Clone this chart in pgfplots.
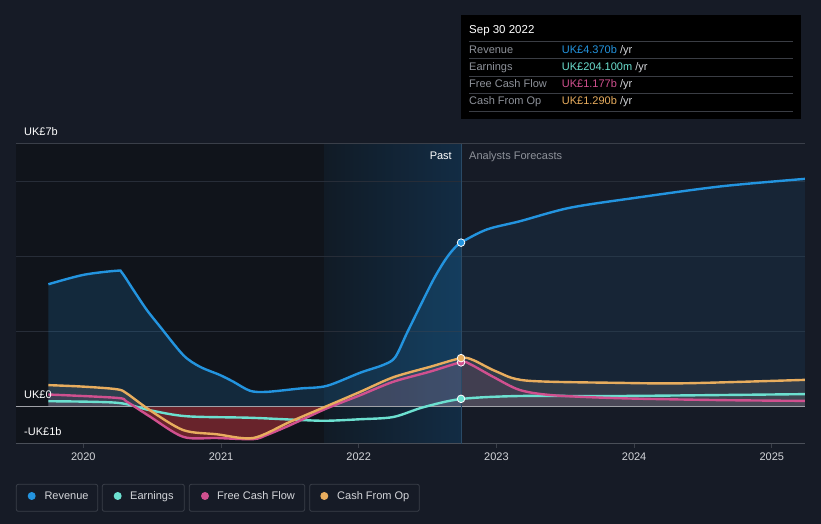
\documentclass[border=0pt]{standalone}
\usepackage{pgfplots}
\pgfplotsset{compat=1.18}
\usepackage{pgfplotstable}
\usepackage{fontspec}
\setmainfont{Liberation Sans}
\definecolor{bg}{HTML}{161B26}
\definecolor{pastdark}{HTML}{10141B}
\definecolor{hlL}{HTML}{111B26}
\definecolor{hlR}{HTML}{122C44}
\definecolor{gridc}{HTML}{272D38}
\definecolor{rev}{HTML}{2394DF}
\definecolor{earn}{HTML}{6CE0D0}
\definecolor{fcf}{HTML}{D0508F}
\definecolor{cfo}{HTML}{E8AD5E}
\definecolor{txt}{HTML}{D4D6DA}
\definecolor{mut}{HTML}{8E929A}
\definecolor{legb}{HTML}{3A3F49}
\definecolor{axc}{HTML}{4A4F58}
\definecolor{zeroc}{HTML}{A0A2A8}
\definecolor{vlc}{HTML}{2A4A66}
\definecolor{sepc}{HTML}{3A3D44}
\definecolor{negred}{HTML}{C0323C}

\pgfplotstableread{
x y
2019.746 3.26
2020.0 3.51
2020.243 3.62
2020.28 3.57
2020.363 3.11
2020.46 2.58
2020.557 2.13
2020.726 1.37
2020.847 1.06
2020.992 0.84
2021.09 0.66
2021.21 0.42
2021.33 0.39
2021.574 0.48
2021.768 0.55
2022.01 0.90
2022.179 1.11
2022.264 1.31
2022.349 1.95
2022.445 2.67
2022.542 3.38
2022.614 3.83
2022.675 4.14
2022.743 4.37
2022.93 4.72
2023.17 4.94
2023.534 5.30
2024.02 5.57
2024.63 5.87
2025.24 6.07
}\revdata

\pgfplotstableread{
x y
2019.746 0.14
2020.243 0.10
2020.484 -0.10
2020.75 -0.26
2021.21 -0.30
2021.574 -0.36
2021.768 -0.38
2022.01 -0.34
2022.251 -0.28
2022.469 -0.02
2022.743 0.20
2023.17 0.28
2023.898 0.28
2025.24 0.33
}\earndata

\pgfplotstableread{
x y
2019.746 0.32
2020.243 0.23
2020.315 0.13
2020.484 -0.27
2020.726 -0.81
2020.968 -0.84
2021.234 -0.87
2021.332 -0.76
2021.50 -0.50
2021.768 -0.05
2022.01 0.30
2022.251 0.66
2022.518 0.93
2022.743 1.18
2022.809 1.13
2022.977 0.79
2023.17 0.44
2023.411 0.30
2023.898 0.22
2024.63 0.17
2025.24 0.15
}\fcfdata

\pgfplotstableread{
x y
2019.746 0.57
2020.0 0.53
2020.243 0.46
2020.315 0.35
2020.484 -0.10
2020.726 -0.63
2020.968 -0.74
2021.234 -0.84
2021.50 -0.41
2021.768 0.01
2022.01 0.39
2022.251 0.78
2022.52 1.06
2022.743 1.29
2022.83 1.24
2023.002 0.93
2023.22 0.69
2023.898 0.63
2024.382 0.62
2025.24 0.71
}\cfodata

\begin{document}
\begin{tikzpicture}[x=1pt,y=1pt,font=\fontsize{11}{13}\selectfont,
  lab/.style={anchor=west, inner sep=0pt, text height=7.9pt, text depth=0pt}]
\useasboundingbox (0,0) rectangle (821,524);
\fill[bg] (0,0) rectangle (821,524);
\begin{axis}[at={(16pt,80pt)}, anchor=south west, scale only axis,
  width=789pt, height=300pt,
  xmin=2019.511, xmax=2025.241, ymin=-1, ymax=7,
  axis line style={draw=none},
  xtick={2020,2021,2022,2023,2024,2025},
  xticklabels={2020,2021,2022,2023,2024,2025},
  xtick pos=bottom,
  ytick=\empty,
  tick align=outside, major tick length=4pt,
  tick style={draw=legb, line width=0.8pt},
  xticklabel style={text=txt, font=\fontsize{11}{13}\selectfont, yshift=-1pt},
  clip=false,
]
\fill[pastdark] (axis cs:2019.511,-1) rectangle (axis cs:2021.75,7);
\shade[left color=hlL, right color=hlR] (axis cs:2021.75,-1) rectangle (axis cs:2022.743,7);
\draw[gridc, line width=1pt] (axis cs:2019.511,2) -- (axis cs:2025.241,2);
\draw[gridc, line width=1pt] (axis cs:2019.511,4) -- (axis cs:2025.241,4);
\draw[gridc, line width=1pt] (axis cs:2019.511,6) -- (axis cs:2025.241,6);
\draw[legb, line width=1pt] (axis cs:2019.511,7) -- (axis cs:2025.241,7);
\draw[axc, line width=1pt] (axis cs:2019.511,-1) -- (axis cs:2025.241,-1);

% revenue fill
\begin{scope}
\clip (axis cs:2019.5,0) rectangle (axis cs:2022.743,7);
\addplot[draw=none, fill=rev, fill opacity=0.17, smooth, tension=0.5] table {\revdata} \closedcycle;
\end{scope}
\begin{scope}
\clip (axis cs:2022.743,0) rectangle (axis cs:2025.3,7);
\addplot[draw=none, fill=rev, fill opacity=0.09, smooth, tension=0.5] table {\revdata} \closedcycle;
\end{scope}
% cash fills
\begin{scope}
\clip (axis cs:2019.5,0) rectangle (axis cs:2025.3,7);
\addplot[draw=none, fill=gray!80, fill opacity=0.2, smooth, tension=0.5] table {\cfodata} \closedcycle;
\addplot[draw=none, fill=fcf, fill opacity=0.1, smooth, tension=0.5] table {\fcfdata} \closedcycle;
\addplot[draw=none, fill=gray!80, fill opacity=0.12, smooth, tension=0.5] table {\earndata} \closedcycle;
\end{scope}
\begin{scope}
\clip (axis cs:2019.5,-1) rectangle (axis cs:2025.3,0);
\addplot[draw=none, fill=negred, fill opacity=0.5, smooth, tension=0.5] table {\fcfdata} \closedcycle;
\end{scope}

\draw[zeroc, line width=1.6pt] (axis cs:2019.511,0) -- (axis cs:2025.241,0);
\draw[vlc, line width=1pt] (axis cs:2022.743,-1) -- (axis cs:2022.743,7);

\addplot[rev, line width=2.4pt, smooth, tension=0.5] table {\revdata};
\addplot[earn, line width=2.4pt, smooth, tension=0.5] table {\earndata};
\addplot[fcf, line width=2.4pt, smooth, tension=0.5] table {\fcfdata};
\addplot[cfo, line width=2.4pt, smooth, tension=0.5] table {\cfodata};

\addplot[only marks, mark=*, mark size=3.8pt, mark options={fill=rev, draw=white, line width=0.8pt}] coordinates {(2022.743,4.37)};
\addplot[only marks, mark=*, mark size=3.8pt, mark options={fill=earn, draw=white, line width=0.8pt}] coordinates {(2022.743,0.204)};
\addplot[only marks, mark=*, mark size=3.8pt, mark options={fill=fcf, draw=white, line width=0.8pt}] coordinates {(2022.743,1.177)};
\addplot[only marks, mark=*, mark size=3.8pt, mark options={fill=cfo, draw=white, line width=0.8pt}] coordinates {(2022.743,1.29)};
\end{axis}

% y labels
\node[lab, text=white] at (24,392) {UK£7b};
\node[lab, text=white] at (24,129) {UK£0};
\node[lab, text=white] at (24,92) {-UK£1b};
% past / forecast
\node[lab, anchor=east, text=white] at (452,368) {Past};
\node[lab, text=mut] at (469,368) {Analysts Forecasts};

% tooltip
\fill[black] (461,405) rectangle (801,509);
\node[lab, text=white, font=\fontsize{11.5}{13}\selectfont] at (469,494) {Sep 30 2022};
\foreach \yy in {483,465.7,447.7,430.7,413} {\draw[sepc, line width=0.8pt] (469,\yy) -- (793,\yy);}
\node[lab, text=mut] at (469,474.7) {Revenue};
\node[lab, text=mut] at (469,457.7) {Earnings};
\node[lab, text=mut] at (469,440) {Free Cash Flow};
\node[lab, text=mut] at (469,423) {Cash From Op};
\node[lab] at (561.7,474.7) {\textcolor{rev}{UK£4.370b}\ \textcolor{txt}{/yr}};
\node[lab] at (561.7,457.7) {\textcolor{earn}{UK£204.100m}\ \textcolor{txt}{/yr}};
\node[lab] at (561.7,440) {\textcolor{fcf}{UK£1.177b}\ \textcolor{txt}{/yr}};
\node[lab] at (561.7,423) {\textcolor{cfo}{UK£1.290b}\ \textcolor{txt}{/yr}};

% legend
\draw[legb, line width=0.8pt, rounded corners=2pt] (16.3,12.7) rectangle (97.7,39.7);
\draw[legb, line width=0.8pt, rounded corners=2pt] (102.3,12.7) rectangle (184.3,39.7);
\draw[legb, line width=0.8pt, rounded corners=2pt] (189.3,12.7) rectangle (304.7,39.7);
\draw[legb, line width=0.8pt, rounded corners=2pt] (309.7,12.7) rectangle (419.3,39.7);
\fill[rev] (31.7,28) circle (4);
\fill[earn] (117.7,28) circle (4);
\fill[fcf] (205,28) circle (4);
\fill[cfo] (324.3,28) circle (4);
\node[lab, text=txt] at (44.3,28) {Revenue};
\node[lab, text=txt] at (130,28) {Earnings};
\node[lab, text=txt] at (217,28) {Free Cash Flow};
\node[lab, text=txt] at (337,28) {Cash From Op};
\end{tikzpicture}
\end{document}
